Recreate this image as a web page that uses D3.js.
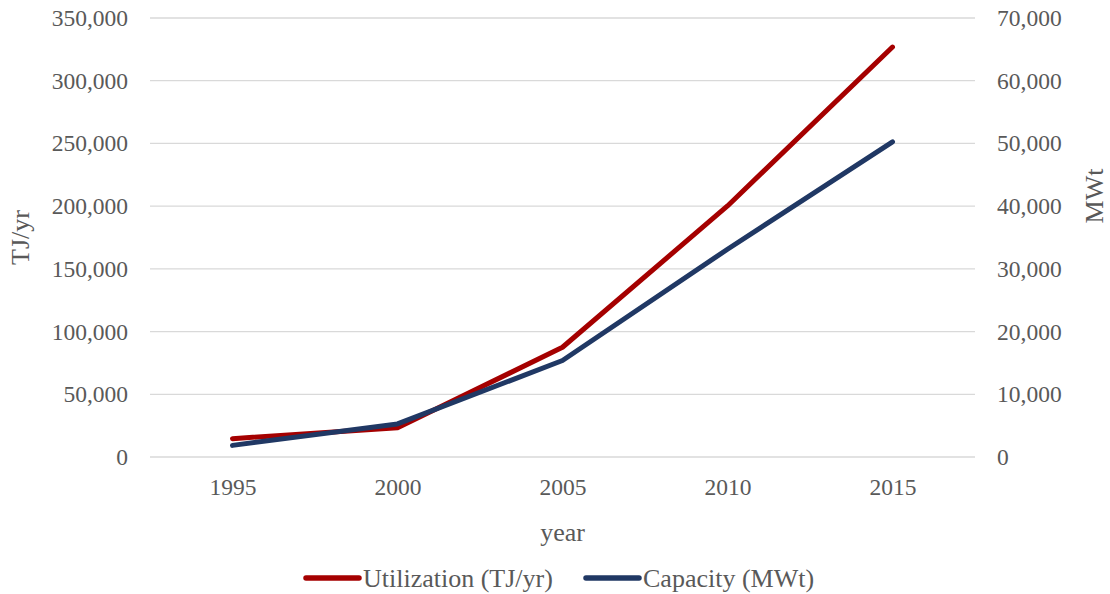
<!DOCTYPE html>
<html><head><meta charset="utf-8">
<script src="https://cdn.jsdelivr.net/npm/d3@7"></script>
<style>body{margin:0;background:#fff;} text{font-family:"Liberation Serif","Times New Roman",serif;fill:#595959;}</style>
</head><body>
<svg id="c" width="1110" height="594"></svg>
<script>
const years = ["1995","2000","2005","2010","2015"];
const utilization = [14617, 23275, 87503, 200149, 326848];
const capacity = [1854, 5275, 15384, 33134, 50258];
const leftTicks = [0,50000,100000,150000,200000,250000,300000,350000];
const rightTicks = [0,10000,20000,30000,40000,50000,60000,70000];

const svg = d3.select("#c");
const L=150, R=975, T=18, B=457;
const x = d3.scalePoint().domain(years).range([L,R]).padding(0.5);
const yL = d3.scaleLinear().domain([0,350000]).range([B,T]);
const yR = d3.scaleLinear().domain([0,70000]).range([B,T]);
const fmt = d3.format(",");
const fs = 23.5, fsT = 26;

svg.append("g").selectAll("line").data(leftTicks).join("line")
  .attr("x1",L).attr("x2",R).attr("y1",d=>yL(d)).attr("y2",d=>yL(d))
  .attr("stroke","#d9d9d9").attr("stroke-width",1.3);

const styleAxis = g => { g.select(".domain").remove(); g.selectAll("text").style("font-size",fs+"px").attr("fill","#595959").style("font-family","Liberation Serif"); };

svg.append("g").attr("transform",`translate(${L},0)`)
  .call(d3.axisLeft(yL).tickValues(leftTicks).tickFormat(fmt).tickSize(0).tickPadding(22)).call(styleAxis);
svg.append("g").attr("transform",`translate(${R},0)`)
  .call(d3.axisRight(yR).tickValues(rightTicks).tickFormat(fmt).tickSize(0).tickPadding(22)).call(styleAxis);
svg.append("g").attr("transform",`translate(0,${B})`)
  .call(d3.axisBottom(x).tickSize(0).tickPadding(21)).call(styleAxis);

svg.append("text").attr("x",(L+R)/2).attr("y",541).attr("text-anchor","middle").style("font-size",fsT+"px").text("year");
svg.append("text").attr("transform",`translate(29,${(T+B)/2}) rotate(-90)`).attr("text-anchor","middle").style("font-size",fsT+"px").text("TJ/yr");
svg.append("text").attr("transform",`translate(1103,196) rotate(-90)`).attr("text-anchor","middle").style("font-size",fsT+"px").text("MWt");

const red="#a50000", blue="#203864";
const lineL = d3.line().x((d,i)=>x(years[i])).y(d=>yL(d));
const lineR = d3.line().x((d,i)=>x(years[i])).y(d=>yR(d));
svg.append("path").attr("d",lineL(utilization)).attr("fill","none").attr("stroke",red).attr("stroke-width",5).attr("stroke-linecap","round").attr("stroke-linejoin","round");
svg.append("path").attr("d",lineR(capacity)).attr("fill","none").attr("stroke",blue).attr("stroke-width",5).attr("stroke-linecap","round").attr("stroke-linejoin","round");

const leg = [{t:"Utilization (TJ/yr)",c:red,x:306},{t:"Capacity (MWt)",c:blue,x:586}];
const lg = svg.append("g");
leg.forEach(d=>{
  lg.append("line").attr("x1",d.x).attr("x2",d.x+53).attr("y1",578).attr("y2",578).attr("stroke",d.c).attr("stroke-width",5.5).attr("stroke-linecap","round");
  lg.append("text").attr("x",d.x+57).attr("y",587).style("font-size",fsT+"px").text(d.t);
});
</script>
</body></html>
